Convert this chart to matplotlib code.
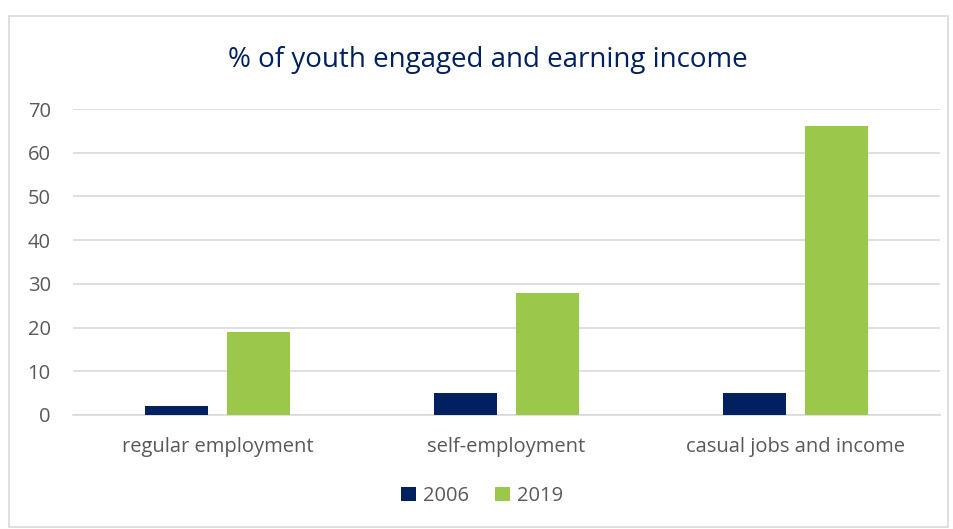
import matplotlib.pyplot as plt
import numpy as np
from matplotlib.patches import Rectangle

categories = ["regular employment", "self-employment", "casual jobs and income"]
years = ["2006", "2019"]
values_2006 = [2, 5, 5]
values_2019 = [19, 28, 66]
y_ticks = [0, 10, 20, 30, 40, 50, 60, 70]

NAVY = "#002060"
GREEN = "#9BC74A"
GREY = "#595959"

plt.rcParams['font.family'] = ['Open Sans', 'DejaVu Sans']

fig = plt.figure(figsize=(9.54, 5.29), dpi=100)
fig.patches.append(Rectangle((9 / 954, 2 / 529), 939 / 954, 511 / 529,
                             transform=fig.transFigure, fill=False,
                             edgecolor="#D9D9D9", linewidth=1.2))

ax = fig.add_axes([73 / 954, 1 - 415 / 529, 867 / 954, 306 / 529])
x = np.arange(len(categories))
width = 0.22
ax.bar(x - 0.142, values_2006, width, color=NAVY, label=years[0], zorder=3)
ax.bar(x + 0.142, values_2019, width, color=GREEN, label=years[1], zorder=3)

ax.set_xlim(-0.5, 2.5)
ax.set_ylim(0, 70)
ax.set_yticks(y_ticks)
ax.set_xticks(x)
ax.set_xticklabels(categories)
ax.tick_params(axis="both", length=0, labelsize=14.5, colors=GREY)
ax.tick_params(axis="x", pad=16)
ax.tick_params(axis="y", pad=16)
ax.grid(axis="y", color="#D9D9D9", linewidth=1.2, zorder=0)
for side in ["top", "right", "left"]:
    ax.spines[side].set_visible(False)
ax.spines["bottom"].set_color("#D9D9D9")
ax.spines["bottom"].set_linewidth(1.2)

fig.text(488 / 954, 1 - 60 / 529, "% of youth engaged and earning income",
         ha="center", va="center", fontsize=20, color=NAVY)

fig.legend(loc="center", bbox_to_anchor=(482 / 954, 1 - 496 / 529), ncol=2,
           frameon=False, fontsize=14.5, labelcolor=GREY, handlelength=0.75,
           handleheight=0.75, handletextpad=0.35, columnspacing=1.3)

fig.savefig("out.png", dpi=100)
